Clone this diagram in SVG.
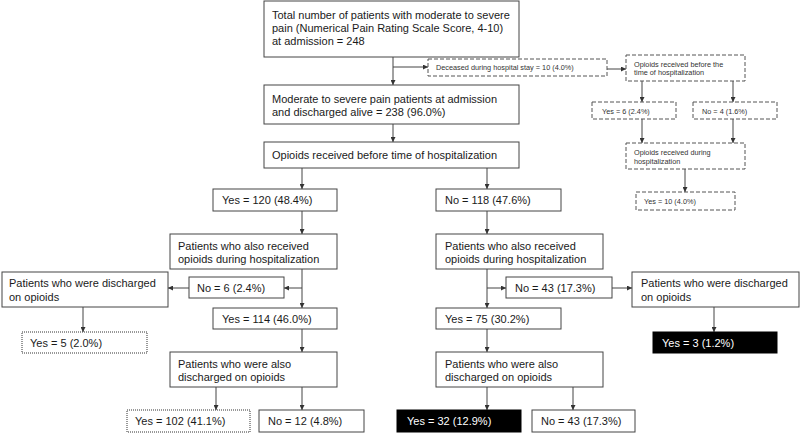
<svg xmlns="http://www.w3.org/2000/svg" width="800" height="433" viewBox="0 0 800 433">
<style>
.b{fill:#fff;stroke:#444;stroke-width:1}
.d{fill:#fff;stroke:#555;stroke-width:1;stroke-dasharray:4 2}
.o{fill:#fff;stroke:#333;stroke-width:1;stroke-dasharray:1 1}
.k{fill:#000;stroke:#000;stroke-width:1}
.t{font-family:"Liberation Sans",Arial,sans-serif;font-size:11px;fill:#1a1a1a}
.s{font-family:"Liberation Sans",Arial,sans-serif;font-size:7.3px;fill:#333}
.w{fill:#fff}
.c path{fill:none;stroke:#444;stroke-width:1;marker-end:url(#ah)}
</style>
<defs>
<marker id="ah" viewBox="0 0 10 10" refX="10" refY="5" markerWidth="5" markerHeight="5" markerUnits="userSpaceOnUse" orient="auto">
<path d="M0,0 L10,5 L0,10 z" fill="#333"/>
</marker>
</defs>
<g class="c" id="connectors">
<path d="M393,57 V85"/>
<path d="M393,67 H428"/>
<path d="M607,69 H626"/>
<path d="M642,81 V102"/>
<path d="M733,81 V102"/>
<path d="M642,119 V143"/>
<path d="M733,119 V143"/>
<path d="M685,169 V192"/>
<path d="M393,124 V142"/>
<path d="M302,168 V189"/>
<path d="M487,168 V189"/>
<path d="M302,211 V234"/>
<path d="M487,211 V234"/>
<path d="M302,269 V308"/>
<path d="M302,288 H284"/>
<path d="M189,288 H168"/>
<path d="M83,307 V332"/>
<path d="M487,269 V308"/>
<path d="M487,288 H506"/>
<path d="M612,288 H632"/>
<path d="M714,307 V332"/>
<path d="M302,329 V352"/>
<path d="M487,329 V352"/>
<path d="M216,387 V410"/>
<path d="M302,387 V410"/>
<path d="M487,387 V410"/>
<path d="M573,387 V410"/>
</g>
<g id="n-total"><rect class="b" x="264" y="1" width="255" height="56"/>
<text class="t" x="272" y="19">Total number of patients with moderate to severe</text>
<text class="t" x="272" y="32">pain (Numerical Pain Rating Scale Score, 4-10)</text>
<text class="t" x="272" y="45">at admission = 248</text></g>
<g id="n-deceased"><rect class="d" x="428" y="59" width="179" height="17"/>
<text class="s" x="436" y="70">Deceased during hospital stay = 10 (4.0%)</text></g>
<g id="n-dec-before"><rect class="d" x="626" y="55" width="119" height="26"/>
<text class="s" x="634" y="66.5">Opioids received before the</text>
<text class="s" x="634" y="75">time of hospitalization</text></g>
<g id="n-dec-yes6"><rect class="d" x="592" y="102" width="84" height="17"/>
<text class="s" x="602" y="113.5">Yes = 6 (2.4%)</text></g>
<g id="n-dec-no4"><rect class="d" x="693" y="102" width="84" height="17"/>
<text class="s" x="702" y="113.5">No = 4 (1.6%)</text></g>
<g id="n-dec-during"><rect class="d" x="626" y="143" width="119" height="26"/>
<text class="s" x="634" y="154.5">Opioids received during</text>
<text class="s" x="634" y="163.5">hospitalization</text></g>
<g id="n-dec-yes10"><rect class="d" x="636" y="192" width="99" height="18"/>
<text class="s" x="644" y="203.5">Yes = 10 (4.0%)</text></g>
<g id="n-alive"><rect class="b" x="264" y="85" width="255" height="39"/>
<text class="t" x="272" y="103">Moderate to severe pain patients at admission</text>
<text class="t" x="272" y="116">and discharged alive = 238 (96.0%)</text></g>
<g id="n-before"><rect class="b" x="264" y="142" width="255" height="26"/>
<text class="t" x="272" y="159">Opioids received before time of hospitalization</text></g>
<g id="n-yes120"><rect class="b" x="213" y="189" width="124" height="22"/>
<text class="t" x="222" y="204">Yes = 120 (48.4%)</text></g>
<g id="n-no118"><rect class="b" x="436" y="189" width="125" height="22"/>
<text class="t" x="445" y="204">No = 118 (47.6%)</text></g>
<g id="n-l-during"><rect class="b" x="170" y="234" width="167" height="35"/>
<text class="t" x="178" y="250">Patients who also received</text>
<text class="t" x="178" y="263">opioids during hospitalization</text></g>
<g id="n-r-during"><rect class="b" x="436" y="234" width="167" height="35"/>
<text class="t" x="445" y="250">Patients who also received</text>
<text class="t" x="445" y="263">opioids during hospitalization</text></g>
<g id="n-no6"><rect class="b" x="189" y="277" width="95" height="21"/>
<text class="t" x="197" y="292">No = 6 (2.4%)</text></g>
<g id="n-l-disch"><rect class="b" x="2" y="272" width="166" height="35"/>
<text class="t" x="9" y="287">Patients who were discharged</text>
<text class="t" x="9" y="301">on opioids</text></g>
<g id="n-yes5"><rect class="o" x="22" y="332" width="125" height="21"/>
<text class="t" x="30" y="347">Yes = 5 (2.0%)</text></g>
<g id="n-no43a"><rect class="b" x="506" y="277" width="106" height="21"/>
<text class="t" x="515" y="292">No = 43 (17.3%)</text></g>
<g id="n-r-disch"><rect class="b" x="632" y="272" width="167" height="35"/>
<text class="t" x="641" y="287">Patients who were discharged</text>
<text class="t" x="641" y="301">on opioids</text></g>
<g id="n-yes3"><rect class="k" x="653" y="332" width="124" height="21"/>
<text class="t w" x="662" y="347">Yes = 3 (1.2%)</text></g>
<g id="n-yes114"><rect class="b" x="213" y="308" width="124" height="21"/>
<text class="t" x="222" y="323">Yes = 114 (46.0%)</text></g>
<g id="n-yes75"><rect class="b" x="436" y="308" width="125" height="21"/>
<text class="t" x="445" y="323">Yes = 75 (30.2%)</text></g>
<g id="n-l-also"><rect class="b" x="170" y="352" width="167" height="35"/>
<text class="t" x="178" y="368">Patients who were also</text>
<text class="t" x="178" y="381">discharged on opioids</text></g>
<g id="n-r-also"><rect class="b" x="436" y="352" width="167" height="35"/>
<text class="t" x="445" y="368">Patients who were also</text>
<text class="t" x="445" y="381">discharged on opioids</text></g>
<g id="n-yes102"><rect class="o" x="127" y="410" width="123" height="22"/>
<text class="t" x="135" y="425">Yes = 102 (41.1%)</text></g>
<g id="n-no12"><rect class="b" x="259" y="410" width="105" height="22"/>
<text class="t" x="268" y="425">No = 12 (4.8%)</text></g>
<g id="n-yes32"><rect class="k" x="397" y="410" width="124" height="22"/>
<text class="t w" x="407" y="425">Yes = 32 (12.9%)</text></g>
<g id="n-no43b"><rect class="b" x="532" y="410" width="103" height="22"/>
<text class="t" x="541" y="425">No = 43 (17.3%)</text></g>
</svg>
